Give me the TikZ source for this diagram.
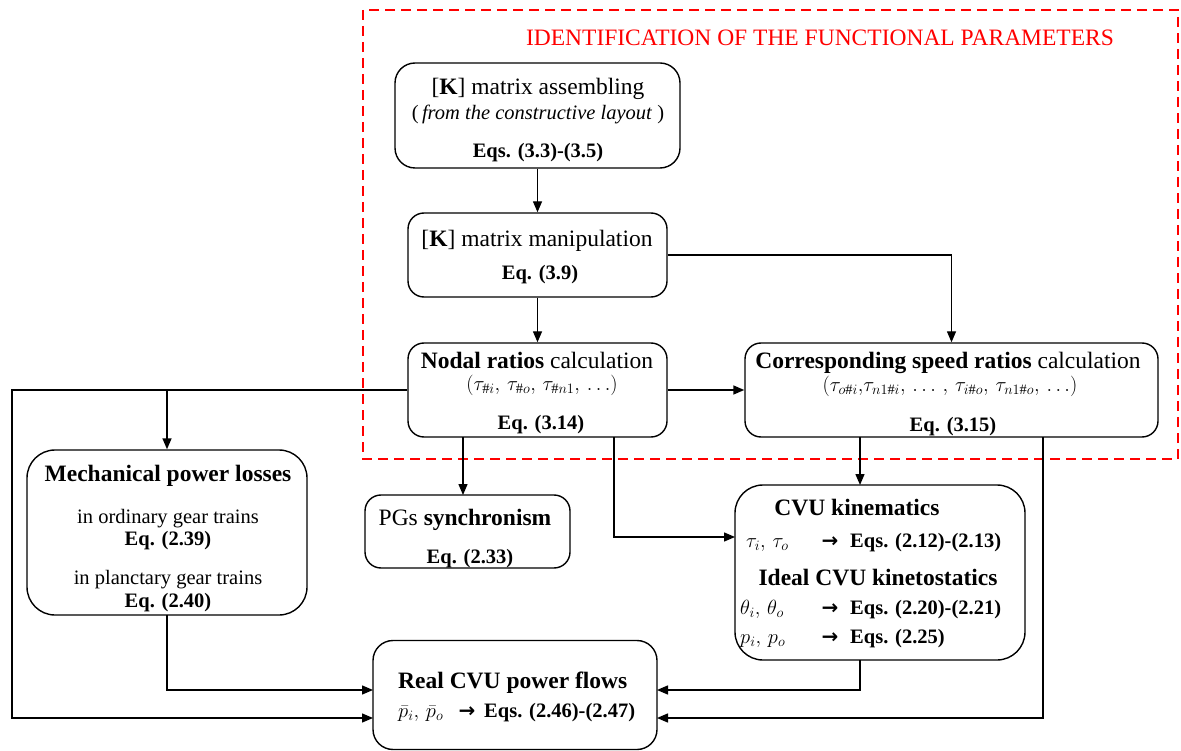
\RequirePackage{fix-cm}
\documentclass[tikz,border=0pt]{standalone}
\usepackage{fontspec}
\setmainfont{Liberation Serif}
\newfontfamily\arrowfont{DejaVu Sans}
\usetikzlibrary{arrows.meta}
\newcommand{\FBig}{\fontsize{23.5}{28}\selectfont}
\newcommand{\FSm}{\fontsize{20.5}{25}\selectfont}
\newcommand{\BArr}{{\arrowfont\bfseries\fontsize{20}{22}\selectfont →}}
\tikzset{
  box/.style={draw, line width=1.4pt, rounded corners=#1, inner sep=0pt},
  box/.default=16pt,
  tx/.style={inner sep=0pt, anchor=base},
  txl/.style={inner sep=0pt, anchor=base west},
  arr/.style={line width=1.4pt, -{Triangle[length=11pt,width=9pt]}},
  redbox/.style={draw=red, line width=2.4pt, dash pattern=on 10pt off 6pt},
}
\begin{document}
\begin{tikzpicture}[x=1pt,y=-1pt]
\path[use as bounding box] (0,0) rectangle (1181,751);
% red frame
\draw[redbox] (363,10) rectangle (1178,459);
\node[tx, text=red] (title) at (820,46) {\FBig IDENTIFICATION OF THE FUNCTIONAL PARAMETERS};

% boxes
\node[box=20pt, minimum width=285pt, minimum height=105pt] (A) at (537.5,115.5) {};
\node[box, minimum width=259pt, minimum height=84pt] (B) at (537.5,255) {};
\node[box, minimum width=259pt, minimum height=94pt] (C) at (537.5,390) {};
\node[box, minimum width=413pt, minimum height=94pt] (D) at (951.5,390) {};
\node[box=28pt, minimum width=280pt, minimum height=165pt] (E) at (167,532.5) {};
\node[box, minimum width=205pt, minimum height=73pt] (F) at (467.5,531.5) {};
\node[box=28pt, minimum width=290pt, minimum height=175pt] (G) at (880,572.5) {};
\node[box=20pt, minimum width=284pt, minimum height=109pt] (H) at (515,695) {};

% texts A
\node[tx] (a1) at (538,95) {\FBig [\textbf{K}] matrix assembling};
\node[tx] (a2) at (538,120) {\FSm (\,\textit{from the constructive layout} )};
\node[tx] (a3) at (538,158) {\FSm\bfseries Eqs. (3.3)-(3.5)};
% B
\node[tx] (b1) at (537,247) {\FBig [\textbf{K}] matrix manipulation};
\node[tx] (b2) at (540,280) {\FSm\bfseries Eq. (3.9)};
% C
\node[tx] (c1) at (537,368) {\FBig\textbf{Nodal ratios} calculation};
\node[tx] (c2) at (542,390) {\FSm $(\tau_{\#i},\, \tau_{\#o},\, \tau_{\#n1},\, \dots)$};
\node[tx] (c3) at (541,429) {\FSm\bfseries Eq. (3.14)};
% D
\node[tx] (d1) at (948,368) {\FBig\textbf{Corresponding speed ratios} calculation};
\node[tx] (d2) at (950,391) {\FSm $(\tau_{o\#i},\!\tau_{n1\#i},\, \dots\,,\, \tau_{i\#o},\, \tau_{n1\#o},\, \dots)$};
\node[tx] (d3) at (953,431) {\FSm\bfseries Eq. (3.15)};
% E
\node[tx] (e1) at (168,481) {\FBig\bfseries Mechanical power losses};
\node[tx] (e2) at (168,523) {\FSm in ordinary gear trains};
\node[tx] (e3) at (168,545) {\FSm\bfseries Eq. (2.39)};
\node[tx] (e4) at (168,584) {\FSm in planctary gear trains};
\node[tx] (e5) at (168,607) {\FSm\bfseries Eq. (2.40)};
% F
\node[tx] (f1) at (465,525) {\FBig PGs \textbf{synchronism}};
\node[tx] (f2) at (470,563) {\FSm\bfseries Eq. (2.33)};
% G
\node[tx] (g1) at (857,515) {\FBig\bfseries CVU kinematics};
\node[txl] (g2) at (746,547) {\FSm $\tau_i,\, \tau_o$};
\node[tx] (g2a) at (830,547) {\BArr};
\node[txl] (g2b) at (850,547) {\FSm\bfseries Eqs. (2.12)-(2.13)};
\node[tx] (g3) at (878,585) {\FBig\bfseries Ideal CVU kinetostatics};
\node[txl] (g4) at (740,614) {\FSm $\theta_i,\, \theta_o$};
\node[tx] (g4a) at (830,614) {\BArr};
\node[txl] (g4b) at (850,614) {\FSm\bfseries Eqs. (2.20)-(2.21)};
\node[txl] (g5) at (740,643) {\FSm $p_i,\, p_o$};
\node[tx] (g5a) at (830,643) {\BArr};
\node[txl] (g5b) at (850,643) {\FSm\bfseries Eqs. (2.25)};
% H
\node[txl] (h1) at (398,688) {\FBig\bfseries Real CVU power flows};
\node[txl] (h2) at (398,717) {\FSm $\bar{p}_i,\, \bar{p}_o$};
\node[tx] (h2a) at (467,717) {\BArr};
\node[txl] (h2b) at (484,717) {\FSm\bfseries Eqs. (2.46)-(2.47)};

% helper coordinates
\coordinate (Lt) at (12,390);
\coordinate (Lb) at (12,718);
\coordinate (Ej) at (167,390);
\coordinate (Hl1) at (373,690);
\coordinate (Hl2) at (373,718);
\coordinate (Hr1) at (657,690);
\coordinate (Hr2) at (657,718);
\coordinate (Cf) at (463,437);
\coordinate (Ff) at (463,495);
\coordinate (Cg) at (614,437);
\coordinate (Gw) at (735,537);
\coordinate (Dg) at (860,437);
\coordinate (Gn) at (860,485);
\coordinate (Gs) at (860,660);
\coordinate (Dh) at (1043,437);
\coordinate (Es) at (167,615);

% connectors
\draw[arr] (A.south) -- (B.north);
\draw[arr] (B.south) -- (C.north);
\draw[arr] (B.east) -| (D.north);
\draw[arr] (C.east) -- (D.west);
\draw[arr] (C.west) -- (Lt) -- (Lb) -- (Hl2);
\draw[arr] (Ej) -- (E.north);
\draw[arr] (Cf) -- (Ff);
\draw[arr] (Cg) |- (Gw);
\draw[arr] (Dg) -- (Gn);
\draw[arr] (Dh) |- (Hr2);
\draw[arr] (Gs) |- (Hr1);
\draw[arr] (Es) |- (Hl1);
\end{tikzpicture}
\end{document}
